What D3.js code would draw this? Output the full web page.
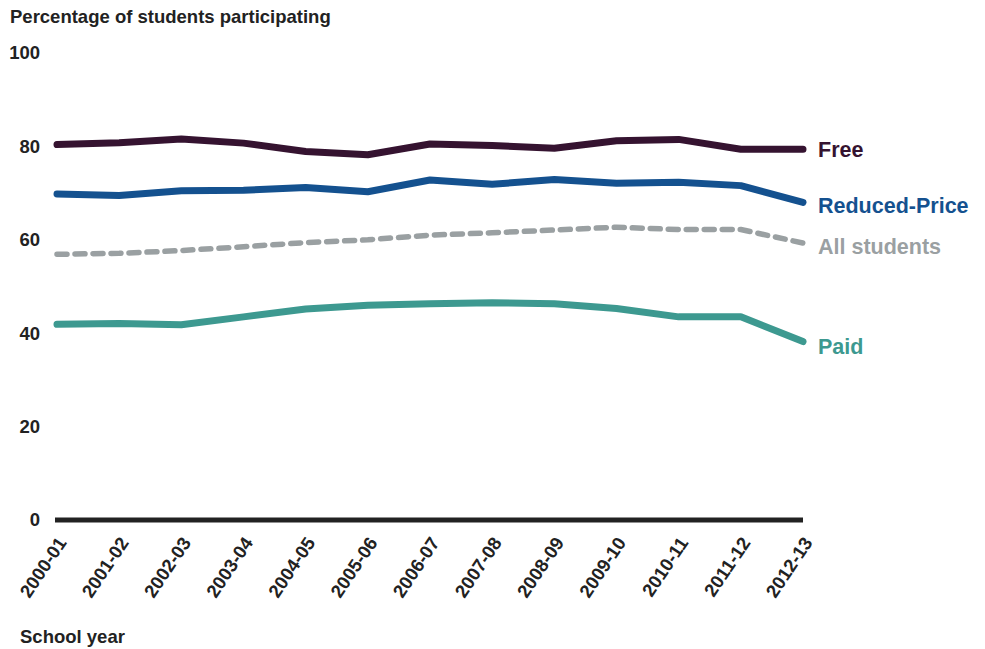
<!DOCTYPE html>
<html>
<head>
<meta charset="utf-8">
<script src="https://cdn.jsdelivr.net/npm/d3@7"></script>
<style>
  body { margin: 0; background: #fff; }
  text { font-family: "Liberation Sans", Arial, sans-serif; font-weight: bold; }
</style>
</head>
<body>
<svg width="985" height="649"></svg>
<script>
const years = ["2000-01", "2001-02", "2002-03", "2003-04", "2004-05", "2005-06", "2006-07",
               "2007-08", "2008-09", "2009-10", "2010-11", "2011-12", "2012-13"];
const free = [80.4, 80.8, 81.6, 80.7, 78.9, 78.2, 80.5, 80.2, 79.6, 81.2, 81.5, 79.4, 79.4];
const reduced = [69.8, 69.5, 70.5, 70.6, 71.2, 70.3, 72.8, 71.9, 72.9, 72.1, 72.3, 71.6, 68.0];
const allStudents = [56.9, 57.1, 57.7, 58.5, 59.4, 60.0, 61.0, 61.5, 62.1, 62.7, 62.2, 62.2, 59.3];
const paid = [41.9, 42.1, 41.8, 43.5, 45.2, 46.0, 46.3, 46.5, 46.3, 45.3, 43.5, 43.5, 38.2];
const yTicks = [0, 20, 40, 60, 80, 100];

const series = [
    {name: "Free", values: free, color: "#351330", dash: null, labelDy: 0},
    {name: "Reduced-Price", values: reduced, color: "#14518f", dash: null, labelDy: 3},
    {name: "All students", values: allStudents, color: "#9aa0a2", dash: "10,8", labelDy: 3},
    {name: "Paid", values: paid, color: "#3d9990", dash: null, labelDy: 5}
];

const svg = d3.select("svg");

const x = d3.scalePoint().domain(years).range([57, 803]);
const y = d3.scaleLinear().domain([0, 100]).range([520, 53]);

// title
svg.append("text")
    .attr("x", 10).attr("y", 23)
    .attr("font-size", 18.5)
    .attr("fill", "#222")
    .text("Percentage of students participating");

// y tick labels
svg.selectAll(".ytick")
    .data(yTicks)
    .enter()
    .append("text")
    .attr("class", "ytick")
    .attr("x", 40)
    .attr("y", d => y(d))
    .attr("dy", "0.35em")
    .attr("text-anchor", "end")
    .attr("font-size", 18.5)
    .attr("fill", "#222")
    .text(d => d);

// baseline
svg.append("line")
    .attr("x1", 55).attr("x2", 803)
    .attr("y1", y(0)).attr("y2", y(0))
    .attr("stroke", "#222")
    .attr("stroke-width", 5);

// x tick labels
svg.selectAll(".xtick")
    .data(years)
    .enter()
    .append("text")
    .attr("class", "xtick")
    .attr("transform", d => `translate(${x(d) + 5}, ${y(0) + 19}) rotate(-56)`)
    .attr("text-anchor", "end")
    .attr("dy", "0.35em")
    .attr("font-size", 18.5)
    .attr("fill", "#222")
    .text(d => d);

svg.append("text")
    .attr("x", 20).attr("y", 643)
    .attr("font-size", 18.5)
    .attr("fill", "#222")
    .text("School year");

const line = d3.line()
    .x((d, i) => x(years[i]))
    .y(d => y(d));

svg.selectAll(".series")
    .data(series)
    .enter()
    .append("path")
    .attr("class", "series")
    .attr("d", d => line(d.values))
    .attr("fill", "none")
    .attr("stroke", d => d.color)
    .attr("stroke-width", d => d.dash ? 5.5 : 7)
    .attr("stroke-dasharray", d => d.dash)
    .attr("stroke-linecap", "round")
    .attr("stroke-linejoin", "round");

svg.selectAll(".label")
    .data(series)
    .enter()
    .append("text")
    .attr("class", "label")
    .attr("x", 818)
    .attr("y", d => y(d.values[d.values.length - 1]) + d.labelDy)
    .attr("dy", "0.35em")
    .attr("font-size", 21.5)
    .attr("fill", d => d.color)
    .text(d => d.name);
</script>
</body>
</html>
